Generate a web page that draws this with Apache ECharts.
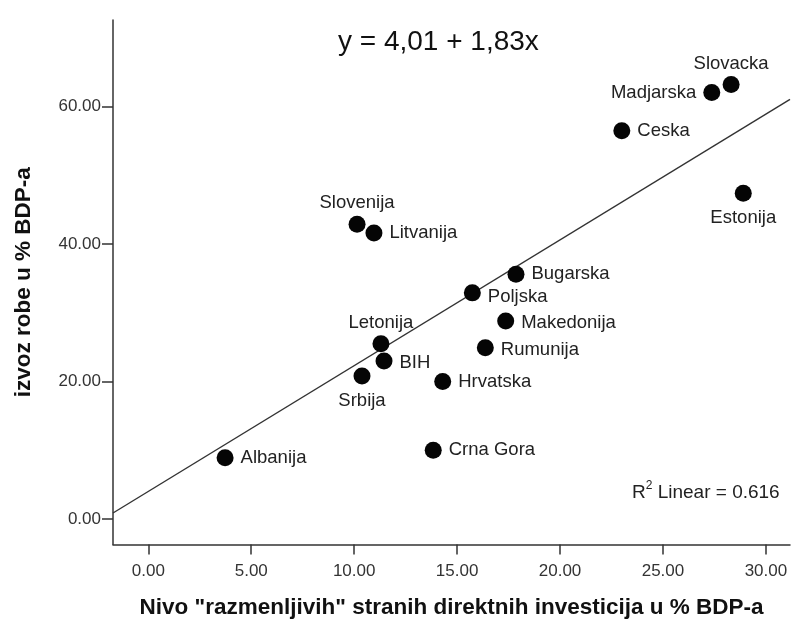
<!DOCTYPE html>
<html>
<head>
<meta charset="utf-8">
<script src="https://cdn.jsdelivr.net/npm/echarts@6/dist/echarts.min.js"></script>
<style>
html,body{margin:0;padding:0;background:#fff;}
#chart{width:791px;height:628px;}
</style>
</head>
<body>
<div id="chart"></div>
<script>
// ---- data ----
var countries = ['Albanija','Slovenija','Litvanija','Letonija','BIH','Srbija','Hrvatska','Crna Gora','Poljska','Bugarska','Makedonija','Rumunija','Ceska','Madjarska','Slovacka','Estonija'];
var fdiValues = [3.73, 10.14, 10.96, 11.30, 11.45, 10.38, 14.30, 13.84, 15.74, 17.86, 17.36, 16.37, 23.00, 27.37, 28.31, 28.90];
var exportValues = [8.9, 42.9, 41.6, 25.5, 23.0, 20.8, 20.0, 10.0, 32.9, 35.6, 28.8, 24.9, 56.5, 62.05, 63.2, 47.4];
var xTicks = [0, 5, 10, 15, 20, 25, 30];
var yTicks = [0, 20, 40, 60];
var fitCoefficients = [4.01, 1.83]; // y = a + b x, as printed on the chart
var rSquared = 0.616;
var xRange = [-1.715, 31.17];
var yRange = [-3.71, 72.6];

// ---- label placement (style only) ----
var labelPlacement = {
  'Albanija': 'right', 'Slovenija': 'top', 'Litvanija': 'right', 'Letonija': 'top',
  'BIH': 'right', 'Srbija': 'bottom', 'Hrvatska': 'right', 'Crna Gora': 'right',
  'Poljska': 'right', 'Bugarska': 'right', 'Makedonija': 'right', 'Rumunija': 'right',
  'Ceska': 'right', 'Madjarska': 'left', 'Slovacka': 'top', 'Estonija': 'bottom'
};
var labelOffset = { 'Poljska': [0, 4], 'BIH': [0, 2], 'Rumunija': [0, 2], 'Makedonija': [0, 2] };

var FONT = "'Liberation Sans', Arial, sans-serif";

var points = countries.map(function (name, i) {
  var pos = labelPlacement[name];
  return {
    name: name,
    value: [fdiValues[i], exportValues[i]],
    label: {
      position: pos,
      distance: pos === 'top' ? 3 : 7,
      offset: labelOffset[name] || [0, 0]
    }
  };
});

var fitLine = [xRange[0], xRange[1]].map(function (x) {
  return [x, fitCoefficients[0] + fitCoefficients[1] * x];
});

var chart = echarts.init(document.getElementById('chart'), null, { renderer: 'canvas' });
chart.setOption({
  backgroundColor: '#ffffff',
  animation: false,
  textStyle: { fontFamily: FONT },
  grid: { left: 113, right: 1, top: 20, bottom: 83.5 },
  xAxis: {
    type: 'value',
    min: xRange[0], max: xRange[1],
    name: 'Nivo "razmenljivih" stranih direktnih investicija u % BDP-a',
    nameLocation: 'middle',
    nameGap: 52,
    nameTextStyle: { fontFamily: FONT, fontSize: 22.5, fontWeight: 'bold', color: '#111' },
    axisLine: { onZero: false, lineStyle: { color: '#333', width: 1.5 } },
    axisTick: { show: true, length: 10, customValues: xTicks, lineStyle: { color: '#333', width: 1.5 } },
    axisLabel: {
      customValues: xTicks, margin: 18,
      formatter: function (v) { return v.toFixed(2); },
      fontFamily: FONT, fontSize: 17, color: '#333'
    },
    splitLine: { show: false }
  },
  yAxis: {
    type: 'value',
    min: yRange[0], max: yRange[1],
    name: 'izvoz robe u % BDP-a',
    nameLocation: 'middle',
    nameGap: 78,
    nameTextStyle: { fontFamily: FONT, fontSize: 22.5, fontWeight: 'bold', color: '#111' },
    axisLine: { onZero: false, lineStyle: { color: '#333', width: 1.5 } },
    axisTick: { show: true, length: 11, customValues: yTicks, lineStyle: { color: '#333', width: 1.5 } },
    axisLabel: {
      customValues: yTicks, margin: 12,
      formatter: function (v) { return v.toFixed(2); },
      fontFamily: FONT, fontSize: 17, color: '#333'
    },
    splitLine: { show: false }
  },
  series: [
    {
      type: 'line',
      data: fitLine,
      symbol: 'none',
      silent: true,
      lineStyle: { color: '#333', width: 1.4 },
      z: 1
    },
    {
      type: 'scatter',
      data: points,
      symbol: 'circle',
      symbolSize: 17,
      itemStyle: { color: '#050505', opacity: 1 },
      label: {
        show: true,
        formatter: '{b}',
        fontFamily: FONT,
        fontSize: 18.5,
        color: '#222'
      },
      z: 3
    }
  ],
  graphic: [
    {
      type: 'text',
      left: 338, top: 28,
      style: {
        text: 'y = ' + fitCoefficients[0].toFixed(2).replace('.', ',') + ' + ' + fitCoefficients[1].toFixed(2).replace('.', ',') + 'x',
        font: "28px 'Liberation Sans', Arial, sans-serif",
        fill: '#111'
      }
    },
    {
      type: 'text',
      left: 632, top: 480,
      style: {
        text: '{r|R}{s|2}{r| Linear = ' + rSquared.toFixed(3) + '}',
        rich: {
          r: { fontFamily: FONT, fontSize: 19, fill: '#222', color: '#222', verticalAlign: 'bottom' },
          s: { fontFamily: FONT, fontSize: 12, fill: '#222', color: '#222', verticalAlign: 'top', padding: [0, 0, 10, 0] }
        }
      }
    }
  ]
});
</script>
</body>
</html>
